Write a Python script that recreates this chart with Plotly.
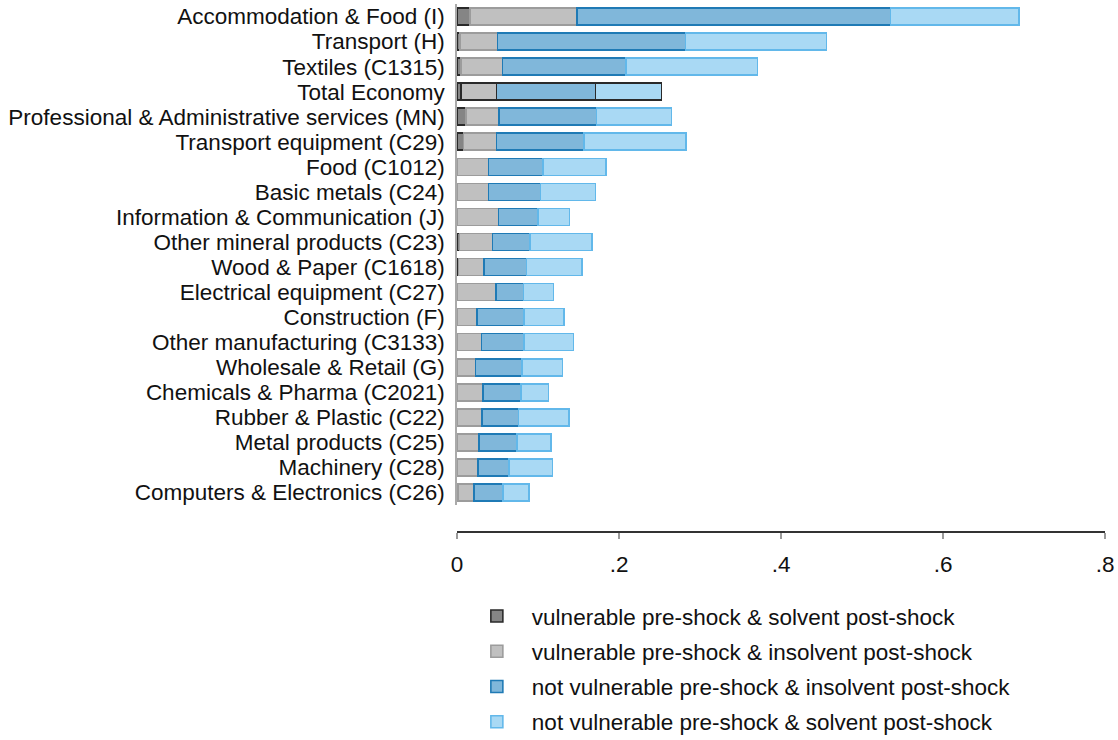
import plotly.graph_objects as go

categories = [
    "Accommodation & Food (I)",
    "Transport (H)",
    "Textiles (C1315)",
    "Total Economy",
    "Professional & Administrative services (MN)",
    "Transport equipment (C29)",
    "Food (C1012)",
    "Basic metals (C24)",
    "Information & Communication (J)",
    "Other mineral products (C23)",
    "Wood & Paper (C1618)",
    "Electrical equipment (C27)",
    "Construction (F)",
    "Other manufacturing (C3133)",
    "Wholesale & Retail (G)",
    "Chemicals & Pharma (C2021)",
    "Rubber & Plastic (C22)",
    "Metal products (C25)",
    "Machinery (C28)",
    "Computers & Electronics (C26)",
]

# share of firms, segment values (stacked)
vuln_pre_solvent_post = [0.016, 0.004, 0.005, 0.005, 0.011, 0.008, None, None, None, 0.003,
                         0.002, None, None, None, None, None, None, None, None, 0.001]
vuln_pre_insolvent_post = [0.132, 0.046, 0.051, 0.044, 0.041, 0.041, 0.039, 0.039, 0.051, 0.041,
                           0.031, 0.048, 0.025, 0.030, 0.023, 0.032, 0.031, 0.027, 0.026, 0.020]
notvuln_pre_insolvent_post = [0.387, 0.232, 0.153, 0.122, 0.120, 0.108, 0.067, 0.064, 0.049, 0.046,
                              0.053, 0.034, 0.058, 0.053, 0.057, 0.047, 0.045, 0.047, 0.038, 0.036]
notvuln_pre_solvent_post = [0.159, 0.174, 0.162, 0.0815, 0.093, 0.126, 0.078, 0.068, 0.039, 0.077,
                            0.068, 0.037, 0.049, 0.061, 0.050, 0.034, 0.0625, 0.042, 0.054, 0.032]

series_names = [
    "vulnerable pre-shock & solvent post-shock",
    "vulnerable pre-shock & insolvent post-shock",
    "not vulnerable pre-shock & insolvent post-shock",
    "not vulnerable pre-shock & solvent post-shock",
]

x_tick_vals = [0, 0.2, 0.4, 0.6, 0.8]
x_tick_text = ["0", ".2", ".4", ".6", ".8"]

highlight_category = "Total Economy"

fills = ["#858585", "#c0c0c0", "#80b7da", "#a9d9f4"]
outlines = ["#2a2a2a", "#9c9c9c", "#1f7ab5", "#62b8ea"]
highlight_outline = "#2a2a2a"

series_values = [vuln_pre_solvent_post, vuln_pre_insolvent_post,
                 notvuln_pre_insolvent_post, notvuln_pre_solvent_post]

FONT = "Liberation Sans, Arial, sans-serif"
FS = 22.5

fig = go.Figure()
for i, (name, vals) in enumerate(zip(series_names, series_values)):
    line_cols = [highlight_outline if c == highlight_category else outlines[i] for c in categories]
    fig.add_trace(go.Bar(
        y=categories,
        x=vals,
        name=name,
        orientation="h",
        width=0.68,
        legendgroup=f"g{i}",
        marker=dict(color=fills[i], line=dict(color=line_cols, width=1.6)),
    ))

fig.update_layout(
    width=1118,
    height=740,
    barmode="stack",
    plot_bgcolor="white",
    paper_bgcolor="white",
    margin=dict(l=457, r=13, t=0, b=200, autoexpand=False),
    font=dict(family=FONT, size=FS, color="#111111"),
    showlegend=True,
    legend=dict(
        x=0.0075,
        xanchor="left",
        y=-0.1015,
        yanchor="top",
        traceorder="grouped",
        tracegroupgap=3,
        itemwidth=60,
        font=dict(family=FONT, size=FS, color="#111111"),
        bgcolor="rgba(0,0,0,0)",
    ),
    xaxis=dict(
        range=[0, 0.8],
        tickvals=x_tick_vals,
        ticktext=x_tick_text,
        showgrid=False,
        zeroline=False,
        showline=True,
        linecolor="#333333",
        linewidth=1.5,
        ticks="outside",
        ticklen=6,
        tickwidth=1.5,
        tickcolor="#9a9a9a",
        ticklabelstandoff=6,
        anchor="free",
        position=0.0148,
        tickfont=dict(family=FONT, size=FS, color="#111111"),
    ),
    yaxis=dict(
        domain=[0.0648, 0.9926],
        autorange="reversed",
        tickmode="array",
        tickvals=categories,
        ticktext=categories,
        showgrid=False,
        zeroline=False,
        showline=True,
        linecolor="#aaaaaa",
        linewidth=1.5,
        ticks="outside",
        ticklen=6,
        tickcolor="rgba(0,0,0,0)",
        tickfont=dict(family=FONT, size=FS, color="#111111"),
    ),
)

fig.write_html("out.html", config={"displayModeBar": False},
               post_script="document.body.style.margin='0px';")
